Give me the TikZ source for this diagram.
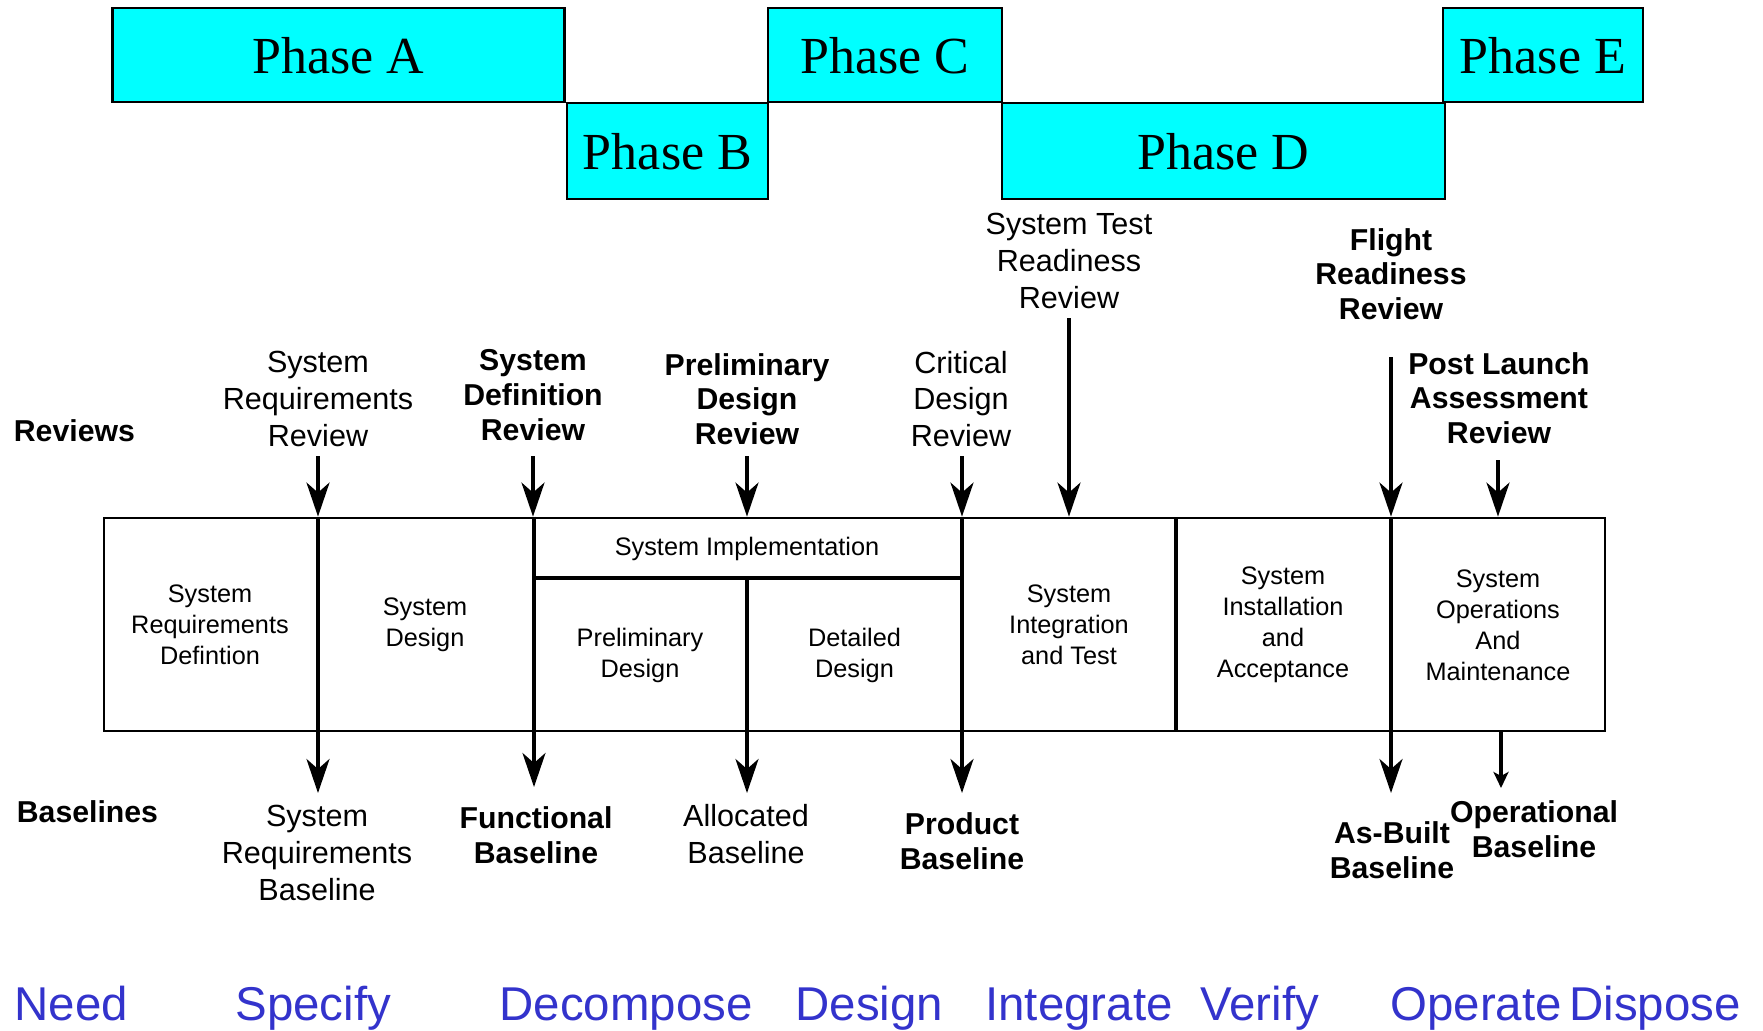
\documentclass[tikz,border=0pt]{standalone}
\usepackage{fontspec}
\setmainfont{Liberation Sans}
\newfontfamily\phasefont{Liberation Serif}
\usetikzlibrary{arrows.meta}
\definecolor{phasecyan}{RGB}{0,255,255}
\definecolor{verbblue}{RGB}{51,51,204}

\begin{document}
\begin{tikzpicture}[
phase/.style = {draw, fill=phasecyan, line width=0.6pt, inner sep=0pt, font=\phasefont\fontsize{14.8}{16}\selectfont},
rev/.style = {align=center, inner sep=1pt, font=\fontsize{8.7}{10.4}\selectfont},
revb/.style = {align=center, inner sep=1pt, font=\bfseries\fontsize{8.6}{9.9}\selectfont},
cell/.style = {align=center, inner sep=1pt, font=\fontsize{7.2}{8.8}\selectfont},
verb/.style = {anchor=base west, inner sep=0pt, text=verbblue, font=\fontsize{13.5}{15}\selectfont},
arr/.style = {line width=1pt, -{Stealth[length=3.4mm, width=2.3mm, inset=1mm]}},
thick]
\useasboundingbox (0,0) rectangle (17.63,-10.30);

\node[phase, minimum width=4.52cm, minimum height=0.94cm, text height=0.38cm] (phA) at (3.385,-0.55) {Phase A};
\node[phase, minimum width=2.01cm, minimum height=0.96cm, text height=0.38cm] (phB) at (6.675,-1.51) {Phase B};
\node[phase, minimum width=2.34cm, minimum height=0.94cm, text height=0.38cm] (phC) at (8.85,-0.55) {Phase C};
\node[phase, minimum width=4.43cm, minimum height=0.96cm, text height=0.38cm] (phD) at (12.235,-1.51) {Phase D};
\node[phase, minimum width=2.00cm, minimum height=0.94cm, text height=0.38cm] (phE) at (15.43,-0.55) {Phase E};

\node[revb, anchor=west] (reviews) at (0.09,-4.31) {Reviews};
\node[rev] (srr) at (3.18,-3.99) {System\\Requirements\\Review};
\node[revb] (sdr) at (5.33,-3.95) {System\\Definition\\Review};
\node[revb] (pdr) at (7.47,-3.99) {Preliminary\\Design\\Review};
\node[rev] (cdr) at (9.61,-3.99) {Critical\\Design\\Review};
\node[rev] (strr) at (10.69,-2.61) {System Test\\Readiness\\Review};
\node[revb] (frr) at (13.91,-2.74) {Flight\\Readiness\\Review};
\node[revb] (plar) at (14.99,-3.98) {Post Launch\\Assessment\\Review};

\node[draw, line width=0.8pt, inner sep=0pt, minimum width=15.01cm, minimum height=2.13cm] (box) at (8.545,-6.245) {};
\node[cell] (srd) at (2.10,-6.25) {System\\Requirements\\Defintion};
\node[cell] (sd) at (4.25,-6.25) {System\\Design};
\node[cell] (si) at (7.47,-5.49) {System Implementation};
\node[cell] (pd) at (6.40,-6.555) {Preliminary\\Design};
\node[cell] (dd) at (8.545,-6.555) {Detailed\\Design};
\node[cell] (sit) at (10.69,-6.25) {System\\Integration\\and Test};
\node[cell] (sia) at (12.83,-6.25) {System\\Installation\\and\\Acceptance};
\node[cell] (som) at (14.98,-6.25) {System\\Operations\\And\\Maintenance};

\node[revb, anchor=west] (baselines) at (0.12,-8.12) {Baselines};
\node[rev] (srb) at (3.17,-8.53) {System\\Requirements\\Baseline};
\node[revb] (fb) at (5.36,-8.35) {Functional\\Baseline};
\node[rev] (ab) at (7.46,-8.34) {Allocated\\Baseline};
\node[revb] (pb) at (9.62,-8.41) {Product\\Baseline};
\node[revb] (abb) at (13.92,-8.50) {As-Built\\Baseline};
\node[revb] (ob) at (15.34,-8.29) {Operational\\Baseline};

\node[verb] (need) at (0.13,-10.20) {Need};
\node[verb] (specify) at (2.34,-10.20) {Specify};
\node[verb] (decompose) at (4.98,-10.20) {Decompose};
\node[verb] (design) at (7.94,-10.20) {Design};
\node[verb] (integrate) at (9.84,-10.20) {Integrate};
\node[verb] (verify) at (11.99,-10.20) {Verify};
\node[verb] (operate) at (13.89,-10.20) {Operate};
\node[verb] (dispose) at (15.68,-10.20) {Dispose};

\coordinate (srrTop) at (3.18,-4.56);
\coordinate (sdrTop) at (5.33,-4.56);
\coordinate (pdrTop) at (7.47,-4.56);
\coordinate (cdrTop) at (9.62,-4.56);
\coordinate (strrTop) at (10.69,-3.18);
\coordinate (frrTop) at (13.91,-3.57);
\coordinate (plarTop) at (14.98,-4.60);
\coordinate (srbTip) at (3.18,-7.93);
\coordinate (fbTip) at (5.34,-7.87);
\coordinate (abTip) at (7.47,-7.93);
\coordinate (pbTip) at (9.62,-7.93);
\coordinate (abbTip) at (13.91,-7.93);
\coordinate (obTip) at (15.01,-7.88);
\coordinate (implW) at (5.33,-5.78);
\coordinate (implE) at (9.62,-5.78);

\foreach \r in {srr,sdr,pdr,cdr,strr,frr,plar}
  \draw[arr] (\r Top) -- (\r Top |- box.north);
\foreach \b in {srb,fb,pb,abb}
  \draw[arr] (\b Tip |- box.north) -- (\b Tip);
\draw[arr] (abTip |- implW) -- (abTip);
\draw[line width=1.4pt, -{Stealth[length=1.6mm, width=1.5mm, inset=0.4mm]}] (obTip |- box.south) -- (obTip);
\draw[line width=1pt] (implW) -- (implE);
\draw[line width=1pt] (11.76,-5.18) -- (11.76,-7.31);

\end{tikzpicture}
\end{document}
